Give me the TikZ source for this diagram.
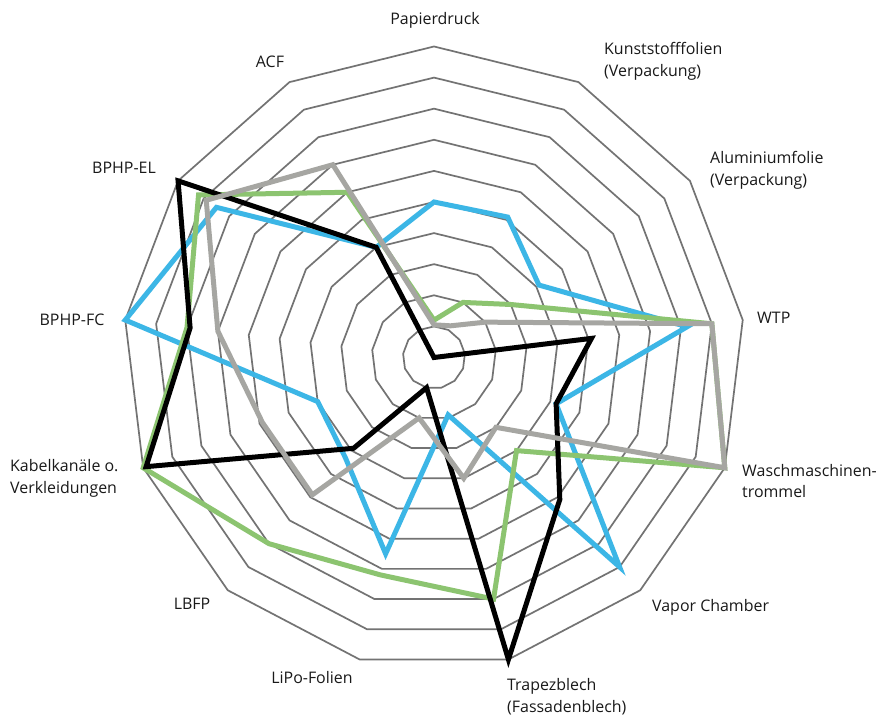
\documentclass[tikz,border=0pt]{standalone}
\usepackage{fontspec}
\setmainfont{Open Sans}
\definecolor{ringgray}{RGB}{115,115,115}
\definecolor{cblue}{RGB}{60,182,230}
\definecolor{cgreen}{RGB}{140,196,112}
\definecolor{cgray}{RGB}{166,166,162}
\tikzset{
  ring/.style={draw=ringgray, line width=1.7bp},
  series/.style={line width=5bp, line join=miter, miter limit=20},
  lbl/.style={font=\fontsize{16}{22}\selectfont, text=black!90, inner sep=0pt, align=left},
}
\begin{document}
\begin{tikzpicture}[x=1bp,y=1bp]
\useasboundingbox[fill=white] (0,0) rectangle (887,715);
\begin{scope}[shift={(434,357.5)}, x=31.1bp, y=31.1bp]
  \foreach \i in {1,...,10}
    \draw[ring] (90:\i) \foreach \k in {1,...,12} { -- ({90-\k*360/13}:\i) } -- cycle;
  % blue
  \draw[series, cblue] (90:5)
    \foreach \v [count=\k from 0] in {5,5.1,4.1,8.2,4.2,9,1.9,6.5,4.3,4,10,8.5,4}
      { -- ({90-\k*360/13}:\v) } -- cycle;
  % green
  \draw[series, cgreen] (90:1.2)
    \foreach \v [count=\k from 0] in {1.2,2,3,9,10,4,8,7.2,8,10,8,9.2,6}
      { -- ({90-\k*360/13}:\v) } -- cycle;
  % black
  \draw[series, black] (90:0)
    \foreach \v [count=\k from 0] in {0,0,0,5.1,4.2,6.1,10,1,3.9,9.9,7.9,10,4}
      { -- ({90-\k*360/13}:\v) } -- cycle;
  % gray
  \draw[series, cgray] (90:1.05)
    \foreach \v [count=\k from 0] in {1.05,1.15,2,9,10,3,4,2,5.9,5.9,7,8.9,7}
      { -- ({90-\k*360/13}:\v) } -- cycle;
\end{scope}
\node[lbl] (papier) at (435,695) {Papierdruck};
\node[lbl, anchor=west] (kunst) at (604,654) {Kunststofffolien\\(Verpackung)};
\node[lbl, anchor=west] (alu) at (710,544.5) {Aluminiumfolie\\(Verpackung)};
\node[lbl, anchor=west] (wtp) at (757,397) {WTP};
\node[lbl, anchor=west] (wasch) at (742,234) {Waschmaschinen-\\trommel};
\node[lbl, anchor=west] (vapor) at (652,108) {Vapor Chamber};
\node[lbl, anchor=west] (trapez) at (507,18) {Trapezblech\\(Fassadenblech)};
\node[lbl] (lipo) at (312,37) {LiPo-Folien};
\node[lbl] (lbfp) at (192,111) {LBFP};
\node[lbl, anchor=west] (kabel) at (10,237) {Kabelkanäle o.\\Verkleidungen};
\node[lbl] (fc) at (72,395) {BPHP-FC};
\node[lbl] (el) at (124,547) {BPHP-EL};
\node[lbl] (acf) at (270,653) {ACF};
\end{tikzpicture}
\end{document}
